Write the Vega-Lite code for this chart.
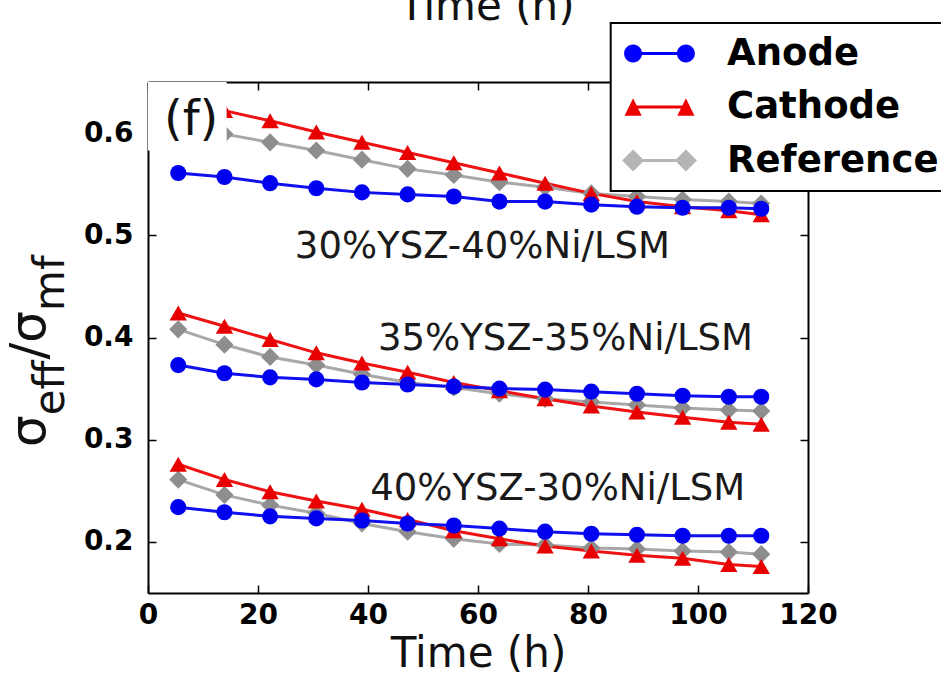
{
"$schema": "https://vega.github.io/schema/vega-lite/v6.json",
"width": 660, "height": 511,
"autosize": {"type": "none"},
"padding": {"left": 148, "top": 82, "right": 133, "bottom": 92},
"background": "white",
"datasets": {
"pts": [
{"g":"A","s":"Reference","t":13.9,"v":0.599},{"g":"A","s":"Reference","t":22.2,"v":0.591},{"g":"A","s":"Reference","t":30.6,"v":0.583},{"g":"A","s":"Reference","t":38.9,"v":0.574},{"g":"A","s":"Reference","t":47.2,"v":0.565},{"g":"A","s":"Reference","t":55.6,"v":0.559},{"g":"A","s":"Reference","t":63.9,"v":0.552},{"g":"A","s":"Reference","t":72.2,"v":0.547},{"g":"A","s":"Reference","t":80.6,"v":0.541},{"g":"A","s":"Reference","t":88.9,"v":0.538},{"g":"A","s":"Reference","t":97.2,"v":0.535},{"g":"A","s":"Reference","t":105.6,"v":0.533},{"g":"A","s":"Reference","t":111.5,"v":0.531},
{"g":"B","s":"Reference","t":5.5,"v":0.408},{"g":"B","s":"Reference","t":13.9,"v":0.393},{"g":"B","s":"Reference","t":22.2,"v":0.381},{"g":"B","s":"Reference","t":30.6,"v":0.373},{"g":"B","s":"Reference","t":38.9,"v":0.364},{"g":"B","s":"Reference","t":47.2,"v":0.356},{"g":"B","s":"Reference","t":55.6,"v":0.351},{"g":"B","s":"Reference","t":63.9,"v":0.345},{"g":"B","s":"Reference","t":72.2,"v":0.340},{"g":"B","s":"Reference","t":80.6,"v":0.337},{"g":"B","s":"Reference","t":88.9,"v":0.334},{"g":"B","s":"Reference","t":97.2,"v":0.331},{"g":"B","s":"Reference","t":105.6,"v":0.329},{"g":"B","s":"Reference","t":111.5,"v":0.328},
{"g":"C","s":"Reference","t":5.5,"v":0.261},{"g":"C","s":"Reference","t":13.9,"v":0.246},{"g":"C","s":"Reference","t":22.2,"v":0.236},{"g":"C","s":"Reference","t":30.6,"v":0.228},{"g":"C","s":"Reference","t":38.9,"v":0.218},{"g":"C","s":"Reference","t":47.2,"v":0.210},{"g":"C","s":"Reference","t":55.6,"v":0.203},{"g":"C","s":"Reference","t":63.9,"v":0.198},{"g":"C","s":"Reference","t":72.2,"v":0.197},{"g":"C","s":"Reference","t":80.6,"v":0.194},{"g":"C","s":"Reference","t":88.9,"v":0.193},{"g":"C","s":"Reference","t":97.2,"v":0.191},{"g":"C","s":"Reference","t":105.6,"v":0.190},{"g":"C","s":"Reference","t":111.5,"v":0.188},
{"g":"A","s":"Cathode","t":13.9,"v":0.622},{"g":"A","s":"Cathode","t":22.2,"v":0.612},{"g":"A","s":"Cathode","t":30.6,"v":0.601},{"g":"A","s":"Cathode","t":38.9,"v":0.591},{"g":"A","s":"Cathode","t":47.2,"v":0.581},{"g":"A","s":"Cathode","t":55.6,"v":0.571},{"g":"A","s":"Cathode","t":63.9,"v":0.561},{"g":"A","s":"Cathode","t":72.2,"v":0.551},{"g":"A","s":"Cathode","t":80.6,"v":0.541},{"g":"A","s":"Cathode","t":88.9,"v":0.533},{"g":"A","s":"Cathode","t":97.2,"v":0.528},{"g":"A","s":"Cathode","t":105.6,"v":0.524},{"g":"A","s":"Cathode","t":111.5,"v":0.520},
{"g":"B","s":"Cathode","t":5.5,"v":0.424},{"g":"B","s":"Cathode","t":13.9,"v":0.411},{"g":"B","s":"Cathode","t":22.2,"v":0.398},{"g":"B","s":"Cathode","t":30.6,"v":0.385},{"g":"B","s":"Cathode","t":38.9,"v":0.375},{"g":"B","s":"Cathode","t":47.2,"v":0.366},{"g":"B","s":"Cathode","t":55.6,"v":0.356},{"g":"B","s":"Cathode","t":63.9,"v":0.348},{"g":"B","s":"Cathode","t":72.2,"v":0.340},{"g":"B","s":"Cathode","t":80.6,"v":0.333},{"g":"B","s":"Cathode","t":88.9,"v":0.327},{"g":"B","s":"Cathode","t":97.2,"v":0.322},{"g":"B","s":"Cathode","t":105.6,"v":0.317},{"g":"B","s":"Cathode","t":111.5,"v":0.315},
{"g":"C","s":"Cathode","t":5.5,"v":0.276},{"g":"C","s":"Cathode","t":13.9,"v":0.261},{"g":"C","s":"Cathode","t":22.2,"v":0.249},{"g":"C","s":"Cathode","t":30.6,"v":0.240},{"g":"C","s":"Cathode","t":38.9,"v":0.232},{"g":"C","s":"Cathode","t":47.2,"v":0.222},{"g":"C","s":"Cathode","t":55.6,"v":0.211},{"g":"C","s":"Cathode","t":63.9,"v":0.203},{"g":"C","s":"Cathode","t":72.2,"v":0.196},{"g":"C","s":"Cathode","t":80.6,"v":0.191},{"g":"C","s":"Cathode","t":88.9,"v":0.187},{"g":"C","s":"Cathode","t":97.2,"v":0.184},{"g":"C","s":"Cathode","t":105.6,"v":0.178},{"g":"C","s":"Cathode","t":111.5,"v":0.176},
{"g":"A","s":"Anode","t":5.5,"v":0.561},{"g":"A","s":"Anode","t":13.9,"v":0.557},{"g":"A","s":"Anode","t":22.2,"v":0.551},{"g":"A","s":"Anode","t":30.6,"v":0.546},{"g":"A","s":"Anode","t":38.9,"v":0.542},{"g":"A","s":"Anode","t":47.2,"v":0.540},{"g":"A","s":"Anode","t":55.6,"v":0.538},{"g":"A","s":"Anode","t":63.9,"v":0.533},{"g":"A","s":"Anode","t":72.2,"v":0.533},{"g":"A","s":"Anode","t":80.6,"v":0.530},{"g":"A","s":"Anode","t":88.9,"v":0.528},{"g":"A","s":"Anode","t":97.2,"v":0.527},{"g":"A","s":"Anode","t":105.6,"v":0.527},{"g":"A","s":"Anode","t":111.5,"v":0.526},
{"g":"B","s":"Anode","t":5.5,"v":0.373},{"g":"B","s":"Anode","t":13.9,"v":0.365},{"g":"B","s":"Anode","t":22.2,"v":0.361},{"g":"B","s":"Anode","t":30.6,"v":0.359},{"g":"B","s":"Anode","t":38.9,"v":0.356},{"g":"B","s":"Anode","t":47.2,"v":0.354},{"g":"B","s":"Anode","t":55.6,"v":0.352},{"g":"B","s":"Anode","t":63.9,"v":0.350},{"g":"B","s":"Anode","t":72.2,"v":0.349},{"g":"B","s":"Anode","t":80.6,"v":0.347},{"g":"B","s":"Anode","t":88.9,"v":0.345},{"g":"B","s":"Anode","t":97.2,"v":0.343},{"g":"B","s":"Anode","t":105.6,"v":0.342},{"g":"B","s":"Anode","t":111.5,"v":0.342},
{"g":"C","s":"Anode","t":5.5,"v":0.234},{"g":"C","s":"Anode","t":13.9,"v":0.229},{"g":"C","s":"Anode","t":22.2,"v":0.225},{"g":"C","s":"Anode","t":30.6,"v":0.223},{"g":"C","s":"Anode","t":38.9,"v":0.221},{"g":"C","s":"Anode","t":47.2,"v":0.218},{"g":"C","s":"Anode","t":55.6,"v":0.216},{"g":"C","s":"Anode","t":63.9,"v":0.213},{"g":"C","s":"Anode","t":72.2,"v":0.210},{"g":"C","s":"Anode","t":80.6,"v":0.208},{"g":"C","s":"Anode","t":88.9,"v":0.207},{"g":"C","s":"Anode","t":97.2,"v":0.206},{"g":"C","s":"Anode","t":105.6,"v":0.206},{"g":"C","s":"Anode","t":111.5,"v":0.206}
],
"labels": [
{"label":"30%YSZ-40%Ni/LSM","t":26.7,"v":0.4886},
{"label":"35%YSZ-35%Ni/LSM","t":41.8,"v":0.3985},
{"label":"40%YSZ-30%Ni/LSM","t":40.4,"v":0.2518}
]
},
"data": {"name": "pts"},
"layer": [
{
"mark": {"type": "line", "strokeWidth": 3},
"encoding": {
"x": {"field": "t", "type": "quantitative", "scale": {"domain": [0, 120], "nice": false, "zero": false},
 "axis": {"values": [0, 20, 40, 60, 80, 100, 120], "title": "Time (h)", "titleFontSize": 42, "titleY": 40, "titleBaseline": "top", "labelPadding": 16}},
"y": {"field": "v", "type": "quantitative", "scale": {"domain": [0.15, 0.65], "nice": false, "zero": false},
 "axis": {"values": [0.2, 0.3, 0.4, 0.5, 0.6], "format": ".1f", "title": null, "labelPadding": 23}},
"color": {"field": "s", "type": "nominal", "scale": {"domain": ["Anode", "Cathode", "Reference"], "range": ["#1010ee", "#ee1212", "#a8a8a8"]}, "legend": null},
"detail": {"field": "g"},
"order": {"field": "t"}
}
},
{
"mark": {"type": "point", "filled": true, "opacity": 1},
"encoding": {
"x": {"field": "t", "type": "quantitative", "axis": {"orient": "top", "values": [0, 20, 40, 60, 80, 100, 120], "labels": false, "title": null}},
"y": {"field": "v", "type": "quantitative", "axis": {"orient": "right", "values": [0.2, 0.3, 0.4, 0.5, 0.6], "labels": false, "title": null}},
"color": {"field": "s", "type": "nominal", "scale": {"domain": ["Anode", "Cathode", "Reference"], "range": ["#0000f0", "#e80000", "#8e8e8e"]}, "legend": null},
"shape": {"field": "s", "type": "nominal", "scale": {"domain": ["Anode", "Cathode", "Reference"], "range": ["circle", "triangle-up", "diamond"]}, "legend": null},
"size": {"condition": [{"test": "datum.s === 'Reference'", "value": 330}, {"test": "datum.s === 'Cathode'", "value": 300}], "value": 260}
}
},
{
"data": {"values": [{}]},
"mark": {"type": "rect", "fill": "white"},
"encoding": {
"x": {"datum": 0, "type": "quantitative", "axis": null},
"x2": {"datum": 14.3},
"y": {"datum": 0.65, "type": "quantitative", "axis": null},
"y2": {"datum": 0.583}
}
},
{
"data": {"values": [{}]},
"mark": {"type": "text", "text": "(f)", "font": "DejaVu Sans", "fontSize": 48, "align": "left", "baseline": "alphabetic", "color": "#111111"},
"encoding": {
"x": {"datum": 2.9, "type": "quantitative", "axis": null},
"y": {"datum": 0.5978, "type": "quantitative", "axis": null}
}
},
{
"data": {"name": "labels"},
"mark": {"type": "text", "font": "DejaVu Sans", "fontSize": 37, "align": "left", "baseline": "middle", "color": "#1a1a1a"},
"encoding": {
"x": {"field": "t", "type": "quantitative", "axis": null},
"y": {"field": "v", "type": "quantitative", "axis": null},
"text": {"field": "label"}
}
},
{
"data": {"values": [{}]},
"mark": {"type": "text", "text": "σ", "font": "DejaVu Sans", "fontSize": 50, "angle": 270, "align": "left", "baseline": "alphabetic", "color": "#111111"},
"encoding": {"x": {"datum": -18.73, "type": "quantitative", "axis": null}, "y": {"datum": 0.2929, "type": "quantitative", "axis": null}}
},
{
"data": {"values": [{}]},
"mark": {"type": "text", "text": "eff", "font": "DejaVu Sans", "fontSize": 42, "angle": 270, "align": "left", "baseline": "alphabetic", "color": "#111111"},
"encoding": {"x": {"datum": -15.3, "type": "quantitative", "axis": null}, "y": {"datum": 0.3239, "type": "quantitative", "axis": null}}
},
{
"data": {"values": [{}]},
"mark": {"type": "text", "text": "/", "font": "DejaVu Sans", "fontSize": 50, "angle": 270, "align": "left", "baseline": "alphabetic", "color": "#111111"},
"encoding": {"x": {"datum": -18.73, "type": "quantitative", "axis": null}, "y": {"datum": 0.3784, "type": "quantitative", "axis": null}}
},
{
"data": {"values": [{}]},
"mark": {"type": "text", "text": "σ", "font": "DejaVu Sans", "fontSize": 50, "angle": 270, "align": "left", "baseline": "alphabetic", "color": "#111111"},
"encoding": {"x": {"datum": -18.73, "type": "quantitative", "axis": null}, "y": {"datum": 0.3949, "type": "quantitative", "axis": null}}
},
{
"data": {"values": [{}]},
"mark": {"type": "text", "text": "mf", "font": "DejaVu Sans", "fontSize": 42, "angle": 270, "align": "left", "baseline": "alphabetic", "color": "#111111"},
"encoding": {"x": {"datum": -15.3, "type": "quantitative", "axis": null}, "y": {"datum": 0.4259, "type": "quantitative", "axis": null}}
},
{
"data": {"values": [{}]},
"mark": {"type": "text", "text": "Time (h)", "font": "DejaVu Sans", "fontSize": 42, "align": "center", "baseline": "alphabetic", "color": "#111111"},
"encoding": {"x": {"datum": 61.6, "type": "quantitative", "axis": null}, "y": {"datum": 0.7107, "type": "quantitative", "axis": null}}
},
{
"transform": [{"filter": "datum.t < 0"}],
"mark": {"type": "point", "filled": true},
"encoding": {
"x": {"field": "t", "type": "quantitative", "axis": null},
"y": {"field": "v", "type": "quantitative", "axis": null},
"color": {"field": "s", "type": "nominal", "scale": {"domain": ["Anode", "Cathode", "Reference"], "range": ["#0000ff", "#ee0000", "#b5b5b5"]},
 "legend": {"title": null, "orient": "none", "legendX": 462.7, "legendY": -59, "symbolSize": 484, "symbolStrokeWidth": 0, "symbolOpacity": 1, "symbolOffset": 22.3, "clipHeight": 45, "labelFontSize": 37, "labelFont": "DejaVu Sans", "labelFontWeight": "bold", "labelColor": "black", "labelOffset": 49, "labelLimit": 400, "padding": 8, "rowPadding": 8.5, "fillColor": "white", "strokeColor": "black", "zindex": 2}},
"shape": {"field": "s", "type": "nominal", "scale": {"domain": ["Anode", "Cathode", "Reference"], "range": [
 "M-3.218,0A0.818,0.818,0,1,1,-1.582,0A0.818,0.818,0,1,1,-3.218,0ZM1.582,0A0.818,0.818,0,1,1,3.218,0A0.818,0.818,0,1,1,1.582,0ZM-2.4,-0.136H2.4V0.136H-2.4Z",
 "M-2.4,-0.8L-1.62,0.8L-3.18,0.8ZM2.4,-0.8L3.18,0.8L1.62,0.8ZM-2.4,-0.136H2.4V0.136H-2.4Z",
 "M-2.4,-1L-1.4,0L-2.4,1L-3.4,0ZM2.4,-1L3.4,0L2.4,1L1.4,0ZM-2.4,-0.136H2.4V0.136H-2.4Z"]},
 "legend": {"title": null, "orient": "none", "legendX": 462.7, "legendY": -59, "symbolSize": 484, "symbolStrokeWidth": 0, "symbolOpacity": 1, "symbolOffset": 22.3, "clipHeight": 45, "labelFontSize": 37, "labelFont": "DejaVu Sans", "labelFontWeight": "bold", "labelColor": "black", "labelOffset": 49, "labelLimit": 400, "padding": 8, "rowPadding": 8.5, "fillColor": "white", "strokeColor": "black", "zindex": 2}}
}
}
],
"resolve": {"axis": {"x": "independent", "y": "independent"}, "scale": {"color": "independent", "shape": "independent"}},
"config": {
"view": {"stroke": null},
"axis": {"grid": false, "domainColor": "black", "domainWidth": 2, "tickColor": "black", "tickWidth": 1.5, "tickSize": -8, "labelFont": "DejaVu Sans", "labelFontWeight": "bold", "labelFontSize": 28, "labelColor": "black", "titleFont": "DejaVu Sans", "titleFontWeight": "normal", "titleColor": "#111111", "zindex": 1, "labelFlush": false, "labelOverlap": false},
"legend": {"strokeWidth": 2}
}
}
